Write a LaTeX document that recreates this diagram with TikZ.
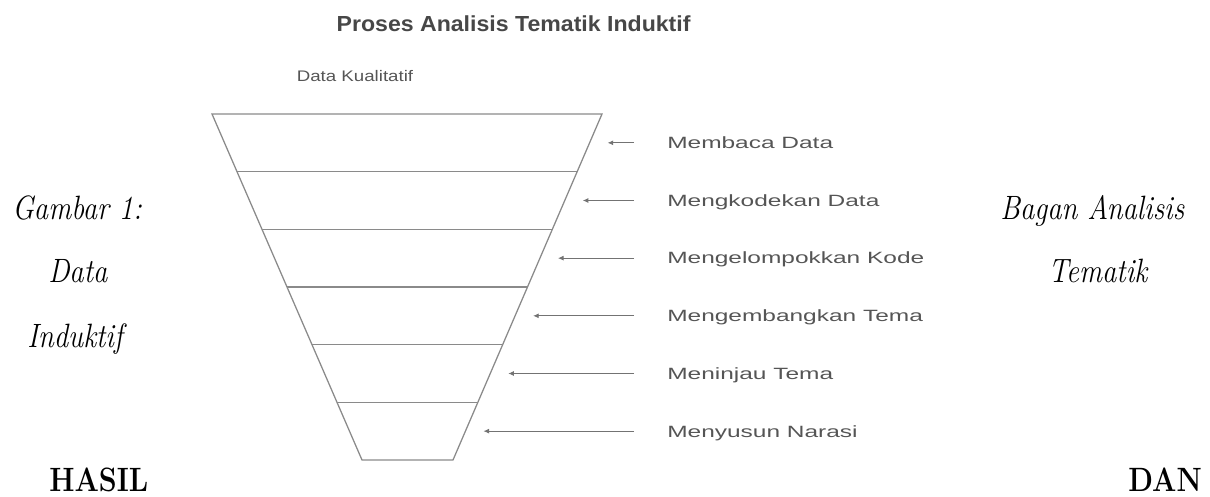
\documentclass[tikz,border=0pt]{standalone}
\usepackage{fontspec}
\usepackage{graphicx}
\usetikzlibrary{arrows.meta,calc}
\newfontfamily\stepfont[FakeStretch=1.5]{Liberation Sans}
\newfontfamily\srcfont[FakeStretch=1.22]{Liberation Sans}
\newfontfamily\headfont[FakeStretch=1.06]{Liberation Sans}
\definecolor{funnelgray}{HTML}{8A8A8A}
\definecolor{textgray}{HTML}{555555}
\newcommand{\narrow}[1]{\scalebox{0.85}[1]{#1}}

\begin{document}
\begin{tikzpicture}[
    layer/.style={draw=funnelgray, line width=0.9pt},
    stepnode/.style={font=\stepfont\fontsize{11.6}{13}\selectfont, text=textgray, anchor=west,
        inner xsep=0.825cm, inner ysep=0pt, text height=8.3pt, text depth=0pt},
    pointer/.style={-{Latex[length=4pt,width=3.5pt]}, draw=black!55, line width=0.65pt},
    side/.style={font=\fontsize{24}{28}\selectfont\itshape, inner sep=0pt, anchor=base west},
    sidebold/.style={side, font=\fontsize{24}{28}\selectfont\bfseries}
]
    \useasboundingbox (0,0) rectangle (30.25,-12.425);

    % Title
    \node[font=\headfont\bfseries\fontsize{15.5}{18}\selectfont, text=black!72, anchor=base] (title) at (12.84,-0.8) {Proses Analisis Tematik Induktif};
    \node[font=\srcfont\fontsize{10.9}{13}\selectfont, text=textgray, anchor=base] (src) at (8.875,-2.04) {Data Kualitatif};

    % Funnel
    \foreach \k in {0,...,6} {
        \coordinate (l\k) at ({5.3+3.75*\k/6}, {-2.85-8.65*\k/6});
        \coordinate (r\k) at ({15.05-3.725*\k/6}, {-2.85-8.65*\k/6});
    }
    \draw[layer] (l0) -- (r0) -- (r6) -- (l6) -- cycle;
    \foreach \k in {1,...,5}
        \draw[layer] (l\k) -- (r\k);

    % Steps
    \coordinate (tail) at (15.85,0);
    \foreach \k/\txt in {0/Membaca Data, 1/Mengkodekan Data, 2/Mengelompokkan Kode,
                         3/Mengembangkan Tema, 4/Meninjau Tema, 5/Menyusun Narasi} {
        \pgfmathtruncatemacro\n{\k+1}
        \coordinate (h\k) at ($($(r\k)!0.5!(r\n)$)+(0.45,0)$);
        \node[stepnode] (s\k) at (h\k -| tail) {\txt};
        \draw[pointer] (s\k.west) -- (h\k);
    }

    % Surrounding text
    \node[side] (capA) at (0.3,-5.5) {\narrow{Gambar 1:}};
    \node[side] (capB) at (1.2,-7.075) {\narrow{Data}};
    \node[side] (capC) at (0.675,-8.7) {\narrow{Induktif}};
    \node[side] (capD) at (25.0,-5.5) {\narrow{Bagan Analisis}};
    \node[side] (capE) at (26.2,-7.075) {\narrow{Tematik}};
    \node[sidebold] (hasil) at (1.225,-12.3) {\narrow{HASIL}};
    \node[sidebold, anchor=base east] (dan) at (30.05,-12.3) {\narrow{DAN}};
\end{tikzpicture}
\end{document}
